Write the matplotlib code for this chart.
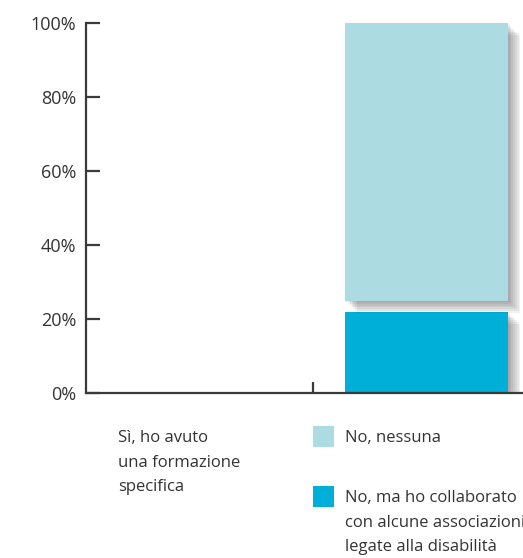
import matplotlib
matplotlib.use("Agg")
import matplotlib.pyplot as plt
import matplotlib.patheffects as pe
from matplotlib.patches import Rectangle

plt.rcParams['font.family'] = ['Open Sans', 'DejaVu Sans']

# dati
categorie = ["", "gruppo"]
serie = ["Sì, ho avuto\nuna formazione\nspecifica",
         "No, nessuna",
         "No, ma ho collaborato\ncon alcune associazioni\nlegate alla disabilità"]
colori = ["#ffffff", "#acdbe2", "#00afd7"]
valori_si = [0, 0]
valori_nessuna = [0, 78]
valori_collab = [0, 22]
y_ticks = [0, 20, 40, 60, 80, 100]
y_labels = ["0%", "20%", "40%", "60%", "80%", "100%"]

gap = 3  # spazio bianco tra i segmenti

fig = plt.figure(figsize=(5.23, 5.58), dpi=100)
ax = fig.add_axes([86 / 523, 165 / 558, 1 - 86 / 523, 370 / 558])

x = list(range(len(categorie)))
larg = 0.72

def ombra():
    # ombra sfumata fatta con piu strati
    eff = []
    for i in range(7):
        d = 1 + i * 1.3
        eff.append(pe.SimplePatchShadow(offset=(d, -d), shadow_rgbFace='black', alpha=0.055))
    eff.append(pe.Normal())
    return eff

b1 = ax.bar(x, valori_collab, width=larg, color=colori[2], zorder=3)
b2 = ax.bar(x, [v - gap if v > 0 else 0 for v in valori_nessuna], width=larg,
            bottom=[c + gap if v > 0 else 0 for c, v in zip(valori_collab, valori_nessuna)],
            color=colori[1], zorder=3)
for b in list(b1) + list(b2):
    if b.get_height() > 0:
        b.set_path_effects(ombra())

ax.set_xlim(-0.5, 1.425)
ax.set_ylim(0, 100)
ax.set_yticks(y_ticks)
ax.set_yticklabels(y_labels)
ax.set_xticks([0.5])
ax.set_xticklabels([""])

for s in ['top', 'right']:
    ax.spines[s].set_visible(False)
for s in ['left', 'bottom']:
    ax.spines[s].set_color('#3a3a3a')
    ax.spines[s].set_linewidth(1.6)
ax.spines['bottom'].set_zorder(4)
ax.tick_params(axis='y', direction='in', length=10, width=1.6, color='#3a3a3a',
               labelsize=13, labelcolor='#333333', pad=7)
ax.tick_params(axis='x', direction='in', length=8, width=1.6, color='#3a3a3a')

# legenda manuale
W, H = 523, 558
pos = [(86, 426), (313, 426), (313, 486)]
for (px, py), nome, col in zip(pos, serie, colori):
    fig.add_artist(Rectangle((px / W, 1 - (py + 21) / H), 21 / W, 21 / H,
                             transform=fig.transFigure, facecolor=col, edgecolor='none'))
    fig.text((px + 32) / W, 1 - (py + 4) / H, nome, ha='left', va='top',
             fontsize=12, color='#333333', linespacing=1.72)

fig.savefig("out.png", dpi=100)
